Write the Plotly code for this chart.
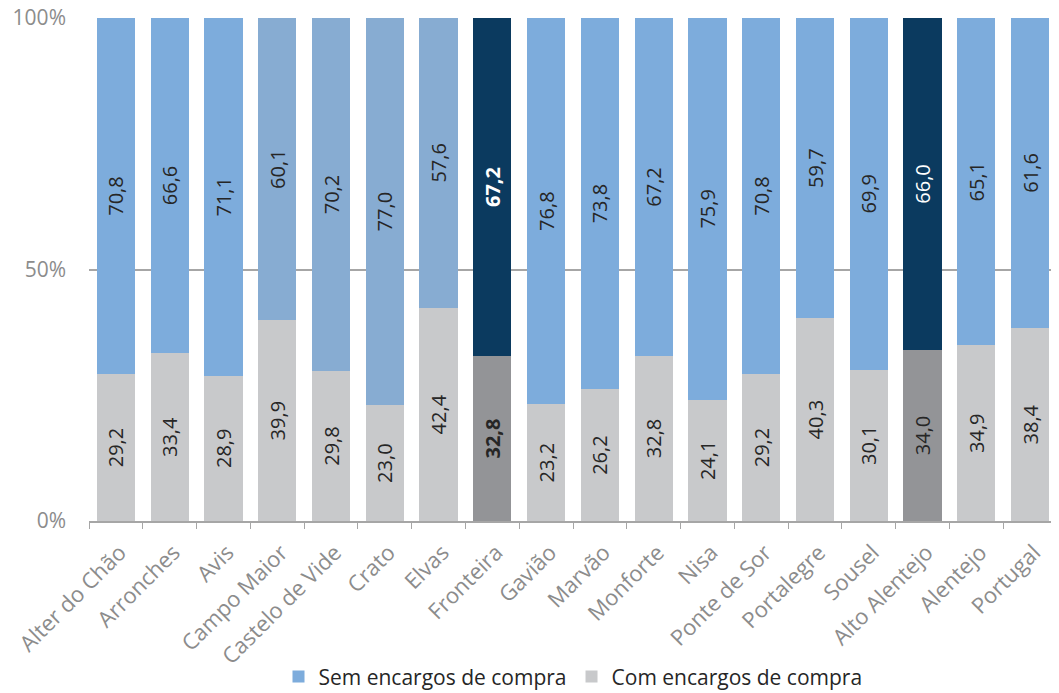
import plotly.graph_objects as go

categories = ["Alter do Chão", "Arronches", "Avis", "Campo Maior", "Castelo de Vide",
              "Crato", "Elvas", "Fronteira", "Gavião", "Marvão", "Monforte", "Nisa",
              "Ponte de Sor", "Portalegre", "Sousel", "Alto Alentejo", "Alentejo", "Portugal"]
sem_encargos = [70.8, 66.6, 71.1, 60.1, 70.2, 77.0, 57.6, 67.2, 76.8, 73.8, 67.2, 75.9,
                70.8, 59.7, 69.9, 66.0, 65.1, 61.6]
com_encargos = [29.2, 33.4, 28.9, 39.9, 29.8, 23.0, 42.4, 32.8, 23.2, 26.2, 32.8, 24.1,
                29.2, 40.3, 30.1, 34.0, 34.9, 38.4]
y_ticks = [0, 50, 100]
y_tick_labels = ["0%", "50%", "100%"]

BLUE = "#7DACDC"
BLUE_GREY = "#87ACD2"
NAVY = "#0B3A5F"
GREY = "#C8C9CB"
DARK_GREY = "#939497"

blue_grey_set = {"Campo Maior", "Castelo de Vide", "Crato", "Elvas"}
dark_set = {"Fronteira", "Alto Alentejo"}
bold_set = {"Fronteira"}


def fmt(v, cat):
    s = f"{v:.1f}".replace(".", ",")
    return f"<b>{s}</b>" if cat in bold_set else s


sem_colors = [NAVY if c in dark_set else (BLUE_GREY if c in blue_grey_set else BLUE) for c in categories]
com_colors = [DARK_GREY if c in dark_set else GREY for c in categories]
sem_text_colors = ["white" if c in dark_set else "#262626" for c in categories]

FONT = "Open Sans"

fig = go.Figure()
fig.add_trace(go.Bar(
    x=categories, y=com_encargos, name="Com encargos de compra",
    marker=dict(color=com_colors, line=dict(width=0)),
    text=[fmt(v, c) for v, c in zip(com_encargos, categories)],
    textposition="inside", insidetextanchor="middle", textangle=-90,
    constraintext="none",
    textfont=dict(family=FONT, size=20, color="#262626"),
    hoverinfo="skip",
))
fig.add_trace(go.Bar(
    x=categories, y=sem_encargos, name="Sem encargos de compra",
    marker=dict(color=sem_colors, line=dict(width=0)),
    text=[fmt(v, c) for v, c in zip(sem_encargos, categories)],
    textposition="inside", insidetextanchor="middle", textangle=-90,
    constraintext="none",
    textfont=dict(family=FONT, size=20, color=sem_text_colors),
    hoverinfo="skip",
))

# page body has an 8px default margin, so the figure is sized to fill the rest
fig.update_layout(
    width=1051, height=685,
    barmode="stack", bargap=0.29,
    plot_bgcolor="white", paper_bgcolor="white",
    margin=dict(l=81, r=2, t=10, b=172, autoexpand=False),
    font=dict(family=FONT, color="#8C8C8C"),
    showlegend=True,
    legend=dict(orientation="h", x=0.5, xanchor="center", y=-0.31, yanchor="middle",
                traceorder="reversed", itemwidth=30,
                font=dict(family=FONT, size=21, color="#262626")),
)
fig.update_xaxes(
    type="category", tickangle=-45, tickson="boundaries", automargin=False,
    ticks="outside", ticklen=6, tickcolor="#A6A6A6",
    showline=True, linecolor="#A6A6A6", linewidth=2,
    showgrid=False,
    ticklabelstandoff=8, ticklabelshift=4,
    tickfont=dict(family=FONT, size=22, color="#8C8C8C"),
)
fig.update_yaxes(
    range=[0, 100], tickvals=y_ticks, ticktext=y_tick_labels, automargin=False,
    ticklabeloverflow="allow",
    showgrid=True, gridcolor="#A6A6A6", gridwidth=2,
    zeroline=False, showline=False, ticks="",
    tickfont=dict(family=FONT, size=21, color="#8C8C8C"),
    ticklabelstandoff=22,
)

fig.write_html("out.html")
